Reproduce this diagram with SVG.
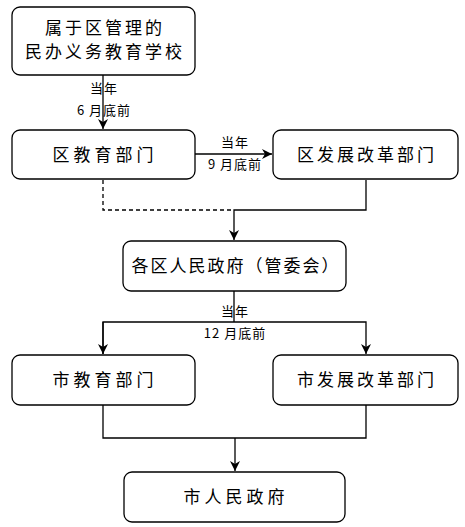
<svg xmlns="http://www.w3.org/2000/svg" width="465" height="527" viewBox="0 0 465 527">
<defs>
<style>
.box{fill:#fff;stroke:#000;stroke-width:1.3}
.t{font-family:"Noto Sans CJK SC","Noto Sans CJK JP",sans-serif;font-size:17px;fill:#000;text-anchor:middle;letter-spacing:3px}
.l{font-family:"Noto Sans CJK SC","Noto Sans CJK JP",sans-serif;font-size:13px;fill:#000;text-anchor:middle;letter-spacing:1px}
.c{fill:none;stroke:#000;stroke-width:1.3}
.d{fill:none;stroke:#000;stroke-width:1.3;stroke-dasharray:4 3}
</style>
<marker id="ah" markerWidth="12" markerHeight="12" viewBox="0 0 12 12" refX="11" refY="6" orient="auto" markerUnits="userSpaceOnUse">
<path d="M1,1 L11,6 L1,11 L4,6 z" fill="#000"/>
</marker>
</defs>
<g id="connectors">
<line class="c" x1="103" y1="75" x2="103" y2="129" marker-end="url(#ah)"/>
<line class="c" x1="195" y1="154" x2="272" y2="154" marker-end="url(#ah)"/>
<polyline class="d" points="103,180 103,210 234,210"/>
<polyline class="c" points="366,180 366,210 234,210 234,240" marker-end="url(#ah)"/>
<line class="c" x1="234" y1="291" x2="234" y2="322"/>
<polyline class="c" points="103,354 103,322 366,322 366,354" marker-end="url(#ah)"/>
<line class="c" x1="103" y1="322" x2="103" y2="354" marker-end="url(#ah)"/>
<polyline class="c" points="103,405 103,438 366,438 366,405"/>
<line class="c" x1="235" y1="438" x2="235" y2="471" marker-end="url(#ah)"/>
<text class="l" x="104" y="93">当年</text>
<text class="l" x="104" y="115">6 月底前</text>
<text class="l" x="235" y="147">当年</text>
<text class="l" x="235" y="169">9 月底前</text>
<text class="l" x="235" y="316">当年</text>
<text class="l" x="235" y="338">12 月底前</text>
</g>
<g id="n1"><rect class="box" x="12" y="7" width="183" height="68" rx="8"/><text class="t" x="105" y="34">属于区管理的</text><text class="t" x="105" y="58">民办义务教育学校</text></g>
<g id="n2"><rect class="box" x="12" y="130" width="183" height="49" rx="8"/><text class="t" x="105" y="161" style="letter-spacing:4px">区教育部门</text></g>
<g id="n3"><rect class="box" x="273" y="130" width="185" height="49" rx="8"/><text class="t" x="367" y="161">区发展改革部门</text></g>
<g id="n4"><rect class="box" x="123" y="241" width="223" height="50" rx="8"/><text class="t" x="236" y="272" style="letter-spacing:2px">各区人民政府（管委会）</text></g>
<g id="n5"><rect class="box" x="12" y="355" width="183" height="50" rx="8"/><text class="t" x="105" y="386" style="letter-spacing:4px">市教育部门</text></g>
<g id="n6"><rect class="box" x="273" y="355" width="185" height="50" rx="8"/><text class="t" x="367" y="386">市发展改革部门</text></g>
<g id="n7"><rect class="box" x="124" y="472" width="221" height="50" rx="8"/><text class="t" x="236" y="503" style="letter-spacing:4px">市人民政府</text></g>
</svg>
